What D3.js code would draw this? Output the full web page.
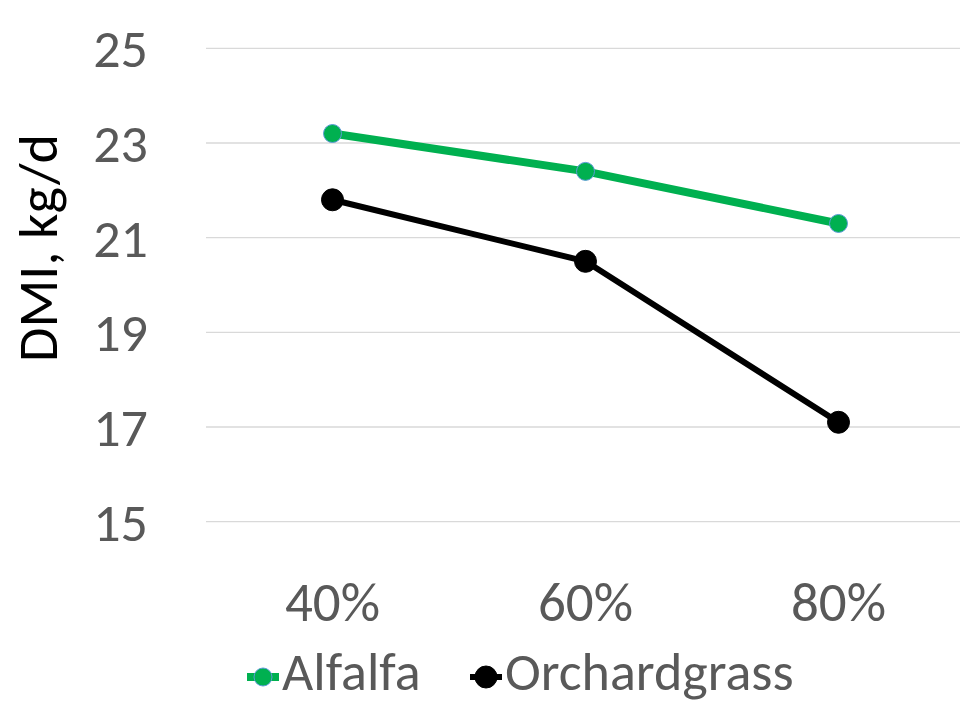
<!DOCTYPE html>
<html>
<head>
<meta charset="utf-8">
<script src="https://cdn.jsdelivr.net/npm/d3@7"></script>
<style>
  body { margin: 0; background: #fff; }
  text { font-family: Carlito, Calibri, Lato, sans-serif; }
</style>
</head>
<body>
<svg id="chart" width="960" height="707"></svg>
<script>
// data
const categories = ["40%", "60%", "80%"];
const alfalfa = [23.2, 22.4, 21.3];
const orchardgrass = [21.8, 20.5, 17.1];
const yTicks = [15, 17, 19, 21, 23, 25];

const series = [
    { name: "Alfalfa", values: alfalfa, color: "#00b050", width: 8, r: 9, stroke: "#5b9bd5" },
    { name: "Orchardgrass", values: orchardgrass, color: "#000000", width: 6, r: 11, stroke: "#000000" }
];

const svg = d3.select("#chart");
const margin = { top: 48.3, left: 206, bottom: 521.7, right: 965 };

// x scale
let x = d3.scalePoint()
    .domain(categories)
    .range([margin.left, margin.right])
    .padding(0.5);

// y scale
let y = d3.scaleLinear()
    .domain([15, 25])
    .range([margin.bottom, margin.top]);

// gridlines
svg.append("g")
    .selectAll("line")
    .data(yTicks).enter()
    .append("line")
    .attr("x1", margin.left)
    .attr("x2", 960)
    .attr("y1", d => y(d))
    .attr("y2", d => y(d))
    .attr("stroke", "#d9d9d9")
    .attr("stroke-width", 1.3);

// y tick labels
svg.append("g")
    .selectAll("text")
    .data(yTicks).enter()
    .append("text")
    .attr("x", 148)
    .attr("y", d => y(d))
    .attr("dy", "0.35em")
    .attr("text-anchor", "end")
    .attr("fill", "#595959")
    .style("font-size", "54px")
    .text(d => d);

// x tick labels
svg.append("g")
    .selectAll("text")
    .data(categories).enter()
    .append("text")
    .attr("x", d => x(d))
    .attr("y", 621)
    .attr("text-anchor", "middle")
    .attr("fill", "#595959")
    .style("font-size", "55px")
    .text(d => d);

// y axis title
svg.append("text")
    .attr("transform", "translate(57," + 248 + ") rotate(-90)")
    .attr("text-anchor", "middle")
    .attr("fill", "#000")
    .style("font-size", "56px")
    .text("DMI, kg/d");

// lines and points
const line = d3.line()
    .x((d, i) => x(categories[i]))
    .y(d => y(d));

series.forEach(s => {
    svg.append("path")
        .datum(s.values)
        .attr("d", line)
        .attr("fill", "none")
        .attr("stroke", s.color)
        .attr("stroke-width", s.width)
        .attr("stroke-linejoin", "round");

    svg.append("g")
        .selectAll("circle")
        .data(s.values).enter()
        .append("circle")
        .attr("cx", (d, i) => x(categories[i]))
        .attr("cy", d => y(d))
        .attr("r", s.r)
        .attr("fill", s.color)
        .attr("stroke", s.stroke)
        .attr("stroke-width", 1);
});

// legend
const legendX = [247, 470];
series.forEach((s, i) => {
    const lg = svg.append("g").attr("transform", "translate(" + legendX[i] + ",677)");
    lg.append("line")
        .attr("x1", 0).attr("x2", 32)
        .attr("stroke", s.color)
        .attr("stroke-width", s.width);
    lg.append("circle")
        .attr("cx", 16).attr("cy", 0)
        .attr("r", s.r)
        .attr("fill", s.color)
        .attr("stroke", s.stroke)
        .attr("stroke-width", 1);
    lg.append("text")
        .attr("x", 35)
        .attr("y", 13)
        .attr("fill", "#595959")
        .style("font-size", "54px")
        .text(s.name);
});
</script>
</body>
</html>
